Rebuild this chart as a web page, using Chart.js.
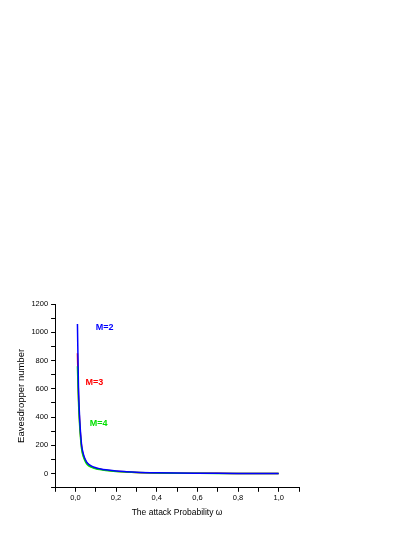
<!DOCTYPE html>
<html lang="en">
<head>
    <meta charset="UTF-8">
    <title>Eavesdropper number</title>
    <script src="https://cdn.jsdelivr.net/npm/chart.js"></script>
    <style>
        body { margin: 0; background: #fff; }
        canvas { display: block; }
    </style>
</head>
<body>
    <canvas id="eveChart" width="415" height="537"></canvas>

    <script>
        // attack probability values (x)
        let omega = [0.01, 0.015, 0.02, 0.03, 0.04, 0.05, 0.06, 0.08, 0.1, 0.12, 0.15, 0.2, 0.25, 0.3, 0.4, 0.5, 0.6, 0.7, 0.8, 0.9, 1.0];
        // eavesdropper number per M
        let eveM2 = [1058, 620, 420, 210, 135, 97, 74, 53, 42, 35, 27, 19, 14, 10, 6, 4, 3, 2.4, 2, 1.6, 1.3];
        let eveM3 = [852, 560, 390, 195, 125, 90, 68, 49, 38, 32, 25, 17, 12.5, 9, 5.5, 3.7, 2.8, 2.2, 1.8, 1.5, 1.2];
        let eveM4 = [760, 520, 360, 180, 115, 82, 62, 45, 35, 29, 23, 16, 11.5, 8.5, 5, 3.4, 2.6, 2, 1.7, 1.4, 1.1];

        let seriesNames = ["M=2", "M=3", "M=4"];
        let seriesColors = ["#0000ff", "#ff0000", "#00e000"];
        // where the curve names sit, in data units
        let labelX = [0.1, 0.05, 0.07];
        let labelY = [1037, 646, 355];

        function toPoints(ys) {
            return omega.map((x, i) => ({ x: x, y: ys[i] }));
        }

        let curveLabels = {
            id: "curveLabels",
            afterDatasetsDraw(chart) {
                let ctx = chart.ctx;
                let xs = chart.scales.x, ys = chart.scales.y;
                ctx.save();
                ctx.font = "bold 9px 'Liberation Sans', Arial, sans-serif";
                ctx.textBaseline = "middle";
                ctx.textAlign = "left";
                seriesNames.forEach((name, i) => {
                    ctx.fillStyle = seriesColors[i];
                    ctx.fillText(name, xs.getPixelForValue(labelX[i]), ys.getPixelForValue(labelY[i]));
                });
                ctx.restore();
            }
        };

        let ds = (data, color) => ({
            data: toPoints(data),
            borderColor: color,
            borderWidth: 1.5,
            pointRadius: 0,
            showLine: true,
            cubicInterpolationMode: "monotone",
            fill: false
        });

        Chart.defaults.font.family = "'Liberation Sans', Arial, sans-serif";
        Chart.defaults.color = "#000";

        new Chart(document.getElementById("eveChart"), {
            type: "scatter",
            data: {
                // first dataset is painted on top, so blue goes first
                datasets: [ds(eveM2, seriesColors[0]), ds(eveM4, seriesColors[2]), ds(eveM3, seriesColors[1])]
            },
            options: {
                responsive: false,
                animation: false,
                layout: { padding: { top: 304, left: 12, right: 116, bottom: 15 } },
                plugins: { legend: { display: false }, tooltip: { enabled: false } },
                scales: {
                    x: {
                        type: "linear",
                        min: -0.1,
                        max: 1.1,
                        border: { color: "#000", width: 1 },
                        grid: { drawOnChartArea: false, color: "#000", tickLength: 4 },
                        ticks: {
                            stepSize: 0.1,
                            autoSkip: false,
                            maxRotation: 0,
                            font: { size: 7.5 },
                            padding: 2,
                            callback: v => {
                                let k = Math.round(v * 10);
                                if (k < 0 || k > 10 || k % 2) return "";
                                return (k / 10).toFixed(1).replace(".", ",");
                            }
                        },
                        title: { display: true, text: "The attack Probability \u03c9", font: { size: 8.5 }, padding: { top: 3 } }
                    },
                    y: {
                        min: -100,
                        max: 1200,
                        border: { color: "#000", width: 1 },
                        grid: { drawOnChartArea: false, color: "#000", tickLength: 4 },
                        ticks: {
                            stepSize: 100,
                            autoSkip: false,
                            font: { size: 7.5 },
                            padding: 3,
                            callback: v => (v >= 0 && v % 200 === 0) ? String(v) : ""
                        },
                        title: { display: true, text: "Eavesdropper number", font: { size: 9.5 }, padding: { bottom: 1 } }
                    }
                }
            },
            plugins: [curveLabels]
        });
    </script>
</body>
</html>
